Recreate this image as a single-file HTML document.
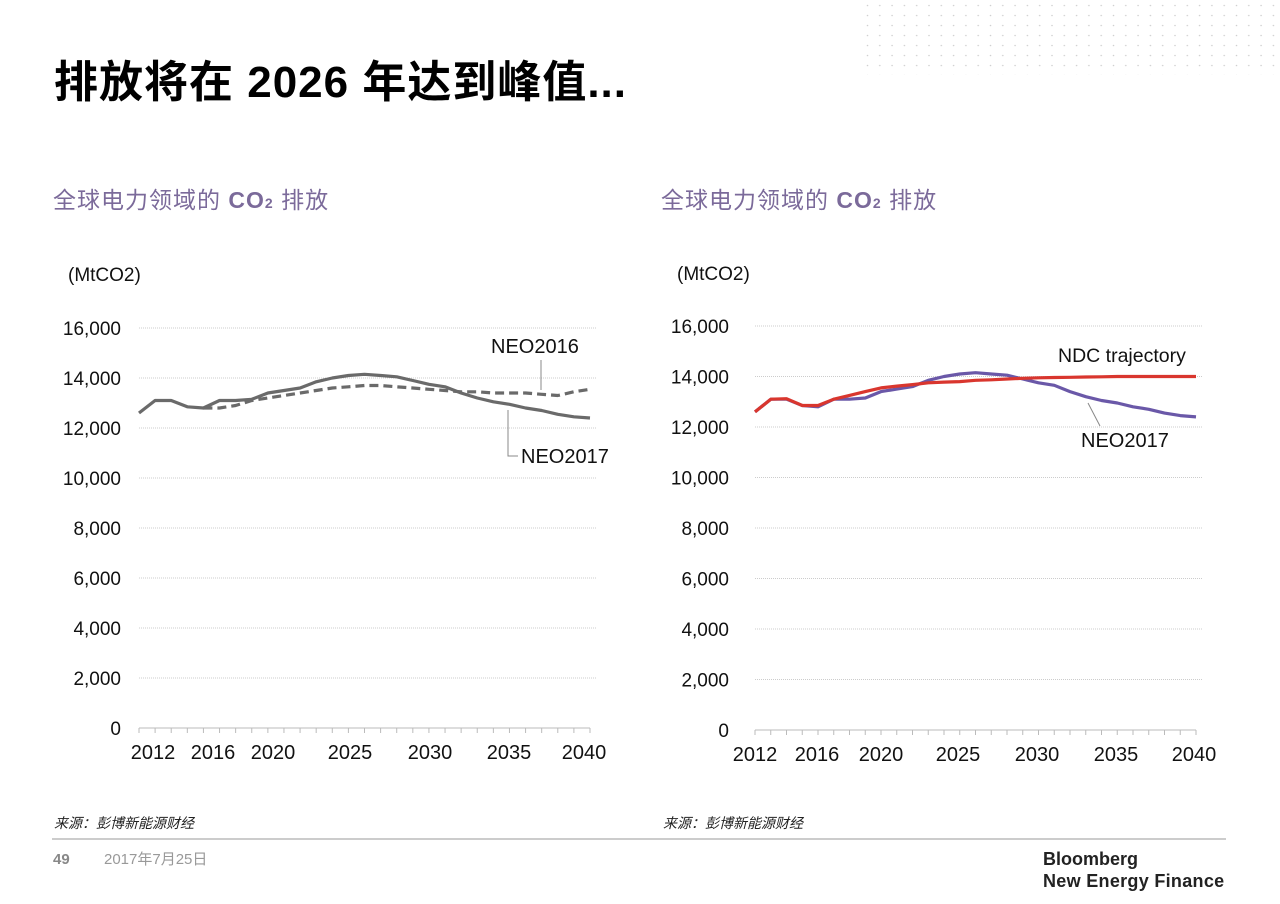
<!DOCTYPE html>
<html><head><meta charset="utf-8"><style>
html,body{margin:0;padding:0;background:#fff;}
svg{display:block;}
text{font-family:"Liberation Sans","Noto Sans CJK SC",sans-serif;}
</style></head><body>
<svg id="s" width="1280" height="904" viewBox="0 0 1280 904" xmlns="http://www.w3.org/2000/svg">
<defs>
<pattern id="dots" x="866" y="4" width="12.3" height="10" patternUnits="userSpaceOnUse">
<circle cx="1.5" cy="1.5" r="0.8" fill="#d0d0d0"/>
</pattern>
</defs>
<rect x="866" y="0" width="414" height="75" fill="url(#dots)"/>
<text x="54" y="97" font-size="44" font-weight="bold" fill="#000" letter-spacing="1">排放将在 2026 年达到峰值...</text>
<text x="53" y="208" font-size="23" fill="#7b6a9a" letter-spacing="1">全球电力领域的 <tspan font-weight="bold">CO</tspan><tspan font-size="14" font-weight="bold">2</tspan> 排放</text>
<text x="661" y="208" font-size="23" fill="#7b6a9a" letter-spacing="1">全球电力领域的 <tspan font-weight="bold">CO</tspan><tspan font-size="14" font-weight="bold">2</tspan> 排放</text>
<text x="68" y="281" font-size="19" fill="#111">(MtCO2)</text>
<text x="677" y="280" font-size="19" fill="#111">(MtCO2)</text>
<g id="g"></g>
<text x="54" y="828" font-size="14" font-style="italic" fill="#222">来源：彭博新能源财经</text>
<text x="663" y="828" font-size="14" font-style="italic" fill="#222">来源：彭博新能源财经</text>
<line x1="52" y1="839" x2="1226" y2="839" stroke="#bbb" stroke-width="1.5"/>
<text x="53" y="864" font-size="15" font-weight="bold" fill="#888">49</text>
<text x="104" y="864" font-size="15" fill="#999">2017年7月25日</text>
<text x="1043" y="865" font-size="18" font-weight="bold" fill="#222">Bloomberg</text>
<text x="1043" y="887" font-size="18" font-weight="bold" fill="#222" letter-spacing="0.3">New Energy Finance</text>
</svg>
<script>
var NS="http://www.w3.org/2000/svg",g=document.getElementById("g");
function el(t,a,txt){var e=document.createElementNS(NS,t);for(var k in a)e.setAttribute(k,a[k]);if(txt!==undefined)e.textContent=txt;g.appendChild(e);return e;}
var neo17=[12600,13100,13100,12850,12800,13100,13100,13150,13400,13500,13600,13850,14000,14100,14150,14100,14050,13900,13750,13650,13400,13200,13050,12950,12800,12700,12550,12450,12400];
var neo16=[12800,12800,12900,13100,13200,13300,13400,13500,13600,13650,13700,13700,13650,13600,13550,13500,13450,13450,13400,13400,13400,13350,13300,13450,13550];
var ndc=[12600,13100,13120,12850,12850,13100,13250,13400,13550,13620,13680,13750,13780,13800,13850,13870,13900,13930,13950,13960,13970,13980,13990,14000,14000,14000,14000,14000,14000];
function chart(c){
  var X=function(i){return c.x0+(c.x1-c.x0)*i/28;},Y=function(v){return c.y0-(c.y0-c.y16)*v/16000;};
  for(var k=1;k<=8;k++){var y=Y(k*2000);el("line",{x1:c.x0,x2:c.x1+6,y1:y,y2:y,stroke:"#ccc","stroke-width":"1","stroke-dasharray":"1 1"});}
  el("line",{x1:c.x0,x2:c.x1,y1:c.y0,y2:c.y0,stroke:"#bbb","stroke-width":"1"});
  for(var i=0;i<=28;i++)el("line",{x1:X(i),x2:X(i),y1:c.y0,y2:c.y0+5,stroke:"#bbb","stroke-width":"1"});
  for(var k=0;k<=8;k++){el("text",{x:c.lx,y:Y(k*2000)+7,"font-size":"19","text-anchor":"end",fill:"#111"},k==0?"0":(k*2).toString()+",000");}
  var yrs=["2012","2016","2020","2025","2030","2035","2040"];
  for(var j=0;j<7;j++)el("text",{x:c.xl[j],y:c.y0+31,"font-size":"20","text-anchor":"middle",fill:"#111"},yrs[j]);
  c.series.forEach(function(s){var p=s.d.map(function(v,i){return X(i+s.off).toFixed(1)+","+Y(v).toFixed(1);}).join(" ");
    var a={points:p,fill:"none",stroke:s.col,"stroke-width":"3.2","stroke-linejoin":"round"};if(s.dash)a["stroke-dasharray"]=s.dash;el("polyline",a);});
}
chart({x0:139,x1:590,y0:728,y16:328,lx:121,xl:[153,213,273,350,430,509,584],series:[
 {d:neo16,off:4,col:"#6a6a6a",dash:"9 5"},{d:neo17,off:0,col:"#6a6a6a"}]});
chart({x0:755,x1:1196,y0:730,y16:326,lx:729,xl:[755,817,881,958,1037,1116,1194],series:[
 {d:neo17,off:0,col:"#6a58a8"},{d:ndc,off:0,col:"#d9362e"}]});
el("polyline",{points:"541,390 541,360",fill:"none",stroke:"#888","stroke-width":"1"});
el("polyline",{points:"508,410 508,456 518,456",fill:"none",stroke:"#888","stroke-width":"1"});
el("text",{x:491,y:353,"font-size":"20",fill:"#111"},"NEO2016");
el("text",{x:521,y:463,"font-size":"20",fill:"#111"},"NEO2017");
el("line",{x1:1088,y1:403,x2:1100,y2:426,stroke:"#888","stroke-width":"1"});
el("text",{x:1058,y:362,"font-size":"19.5",fill:"#111"},"NDC trajectory");
el("text",{x:1081,y:447,"font-size":"20",fill:"#111"},"NEO2017");
</script>
</body></html>
